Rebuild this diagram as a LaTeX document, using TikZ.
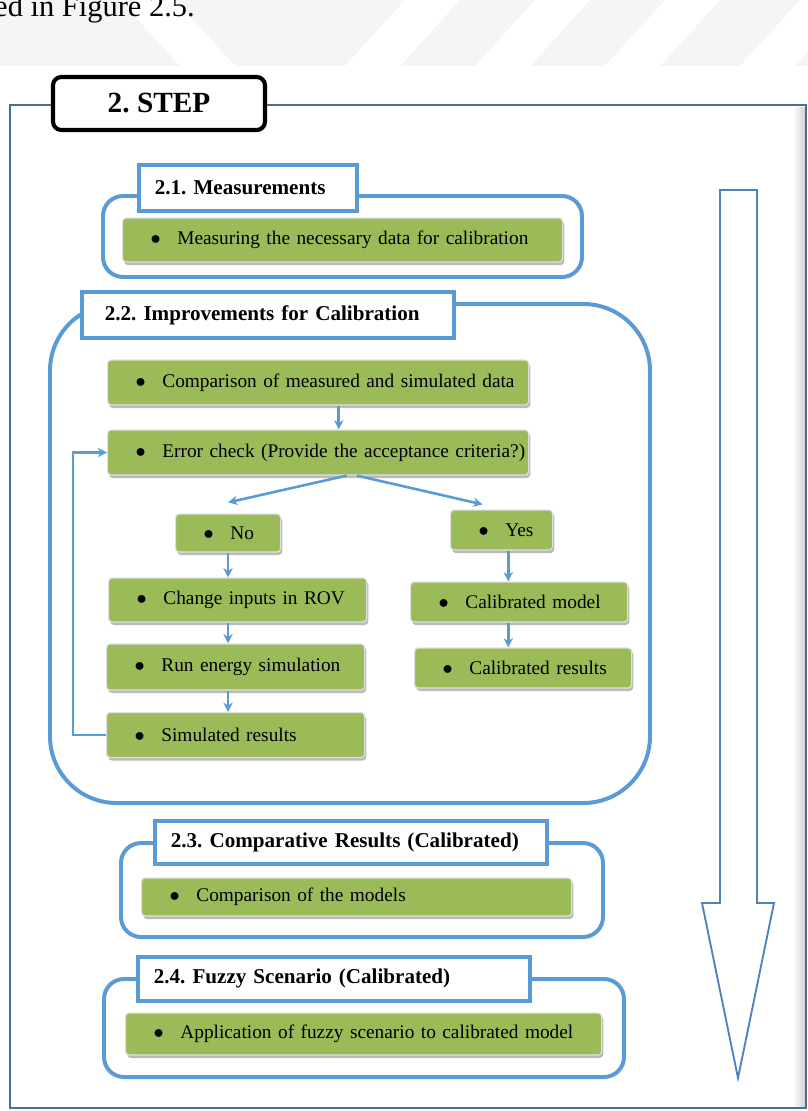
\documentclass[tikz,border=0pt]{standalone}
\usepackage{fontspec}
\setmainfont{Liberation Serif}
\usetikzlibrary{arrows.meta,shadows}

\definecolor{grn}{RGB}{155,187,89}
\definecolor{lblue}{RGB}{91,155,213}
\definecolor{dblue}{RGB}{65,113,156}
\definecolor{ablue}{RGB}{79,129,189}

\frenchspacing
\newcommand{\itm}[1]{\mbox{$\bullet$\hspace{0.5cm}#1}}

\tikzset{
  frame/.style={draw=lblue, line width=3.4pt, rounded corners=#1},
  headbox/.style={draw=lblue, line width=3.2pt, fill=white, anchor=north west,
    inner xsep=0.48cm, inner ysep=0pt, minimum height=1.38cm, text width=#1,
    align=left, font=\bfseries\fontsize{18}{22}\selectfont},
  item/.style={fill=grn, draw=white!88!black, line width=1pt, rounded corners=3pt,
    anchor=west, inner xsep=0.84cm, inner ysep=0pt, minimum height=1.32cm,
    text width=#1, align=left, font=\fontsize{16.5}{20}\selectfont,
    drop shadow={shadow xshift=0.05cm, shadow yshift=-0.09cm, fill=black!45, opacity=0.6}},
  flow/.style={draw=lblue, line width=2.2pt, -{Stealth[length=8pt,width=8pt]}}
}

\begin{document}
\begin{tikzpicture}[x=0.03cm, y=-0.03cm]
\useasboundingbox (0,0) rectangle (808,1111);
\clip (0,0) rectangle (808,1111);

% page above the figure
\fill[gray!8] (0,0) rectangle (808,66);
\fill[white] (120,0) -- (175,0) -- (235,66) -- (180,66) -- cycle;
\foreach \x in {345,475,605,740}
  \fill[white] (\x,66) -- (\x+55,66) -- (\x+115,0) -- (\x+60,0) -- cycle;
\node[anchor=base west, inner sep=0pt, font=\fontsize{26}{30}\selectfont] (figref) at (-6,16) {ed in Figure 2.5.};

% outer frame
\fill[left color=white, right color=gray!35] (793,107) rectangle (805,1106);
\draw[dblue, line width=2.4pt] (10,105) rectangle (806,1108);
\node[draw=black, line width=3.5pt, rounded corners=0.25cm, fill=white,
  minimum width=6.36cm, minimum height=1.59cm,
  font=\bfseries\fontsize{25}{30}\selectfont] (step) at (159,103.5) {2. STEP};

% big arrow
\draw[ablue, line width=1.6pt] (720,190) -- (757,190) -- (757,903) -- (774,903)
  -- (738,1078) -- (702,903) -- (720,903) -- cycle;

% group frames
\draw[frame=0.6cm] (103,196) rectangle (582,277);
\draw[frame=2cm] (50,304) rectangle (650,803);
\draw[frame=0.6cm] (121,843) rectangle (603,937);
\draw[frame=0.6cm] (104,979) rectangle (624,1077);

% titles
\node[headbox=5.58cm] (t21) at (137,163) {2.1. Measurements};
\node[headbox=9.78cm, inner xsep=0.69cm] (t22) at (80,290) {2.2. Improvements for Calibration};
\node[headbox=10.8cm, minimum height=1.29cm] (t23) at (153,819) {2.3. Comparative Results (Calibrated)};
\node[headbox=10.8cm, minimum height=1.32cm] (t24) at (136,955) {2.4. Fuzzy Scenario (Calibrated)};

% 2.1
\node[item=11.52cm] (meas) at (122,240) {\itm{Measuring the necessary data for calibration}};

% 2.2
\node[item=10.95cm, minimum height=1.35cm] (cmp) at (107,382.5) {\itm{Comparison of measured and simulated data}};
\node[item=10.95cm, minimum height=1.35cm] (err) at (107,452.5) {\itm{Error check (Provide the acceptance criteria?)}};
\node[item=1.47cm, minimum height=1.14cm] (no) at (175,533) {\itm{No}};
\node[item=1.38cm, minimum height=1.2cm] (yes) at (450,530) {\itm{Yes}};
\node[item=6.06cm] (chg) at (108,600) {\itm{Change inputs in ROV}};
\node[item=6.06cm, minimum height=1.38cm] (run) at (106,667) {\itm{Run energy simulation}};
\node[item=6.06cm, minimum height=1.35cm] (simr) at (106,735) {\itm{Simulated results}};
\node[item=4.83cm, minimum height=1.2cm] (calm) at (410,602) {\itm{Calibrated model}};
\node[item=4.83cm, minimum height=1.2cm] (calr) at (414,668) {\itm{Calibrated results}};

\draw[flow] ([xshift=0.62cm]cmp.south) -- ([xshift=0.62cm]err.north);
\draw[flow] ([xshift=0.86cm]err.south) -- ([yshift=0.33cm]no.north);
\draw[flow] ([xshift=1.16cm]err.south) -- ([xshift=-0.57cm,yshift=0.15cm]yes.north);
\draw[flow] (no.south) -- (no.south |- chg.north);
\draw[flow] (no.south |- chg.south) -- (no.south |- run.north);
\draw[flow] (no.south |- run.south) -- (no.south |- simr.north);
\draw[flow] ([xshift=0.2cm]yes.south) -- ([xshift=0.2cm]yes.south |- calm.north);
\draw[flow] ([xshift=0.2cm]yes.south |- calm.south) -- ([xshift=0.2cm]yes.south |- calr.north);
\draw[flow] (simr.west) -- ++(-0.99cm,0) |- (err.west);

% 2.3
\node[item=11.22cm, minimum height=1.14cm] (cmpm) at (141,897) {\itm{Comparison of the models}};

% 2.4
\node[item=12.6cm, minimum height=1.26cm] (app) at (125,1034) {\itm{Application of fuzzy scenario to calibrated model}};
\end{tikzpicture}
\end{document}
